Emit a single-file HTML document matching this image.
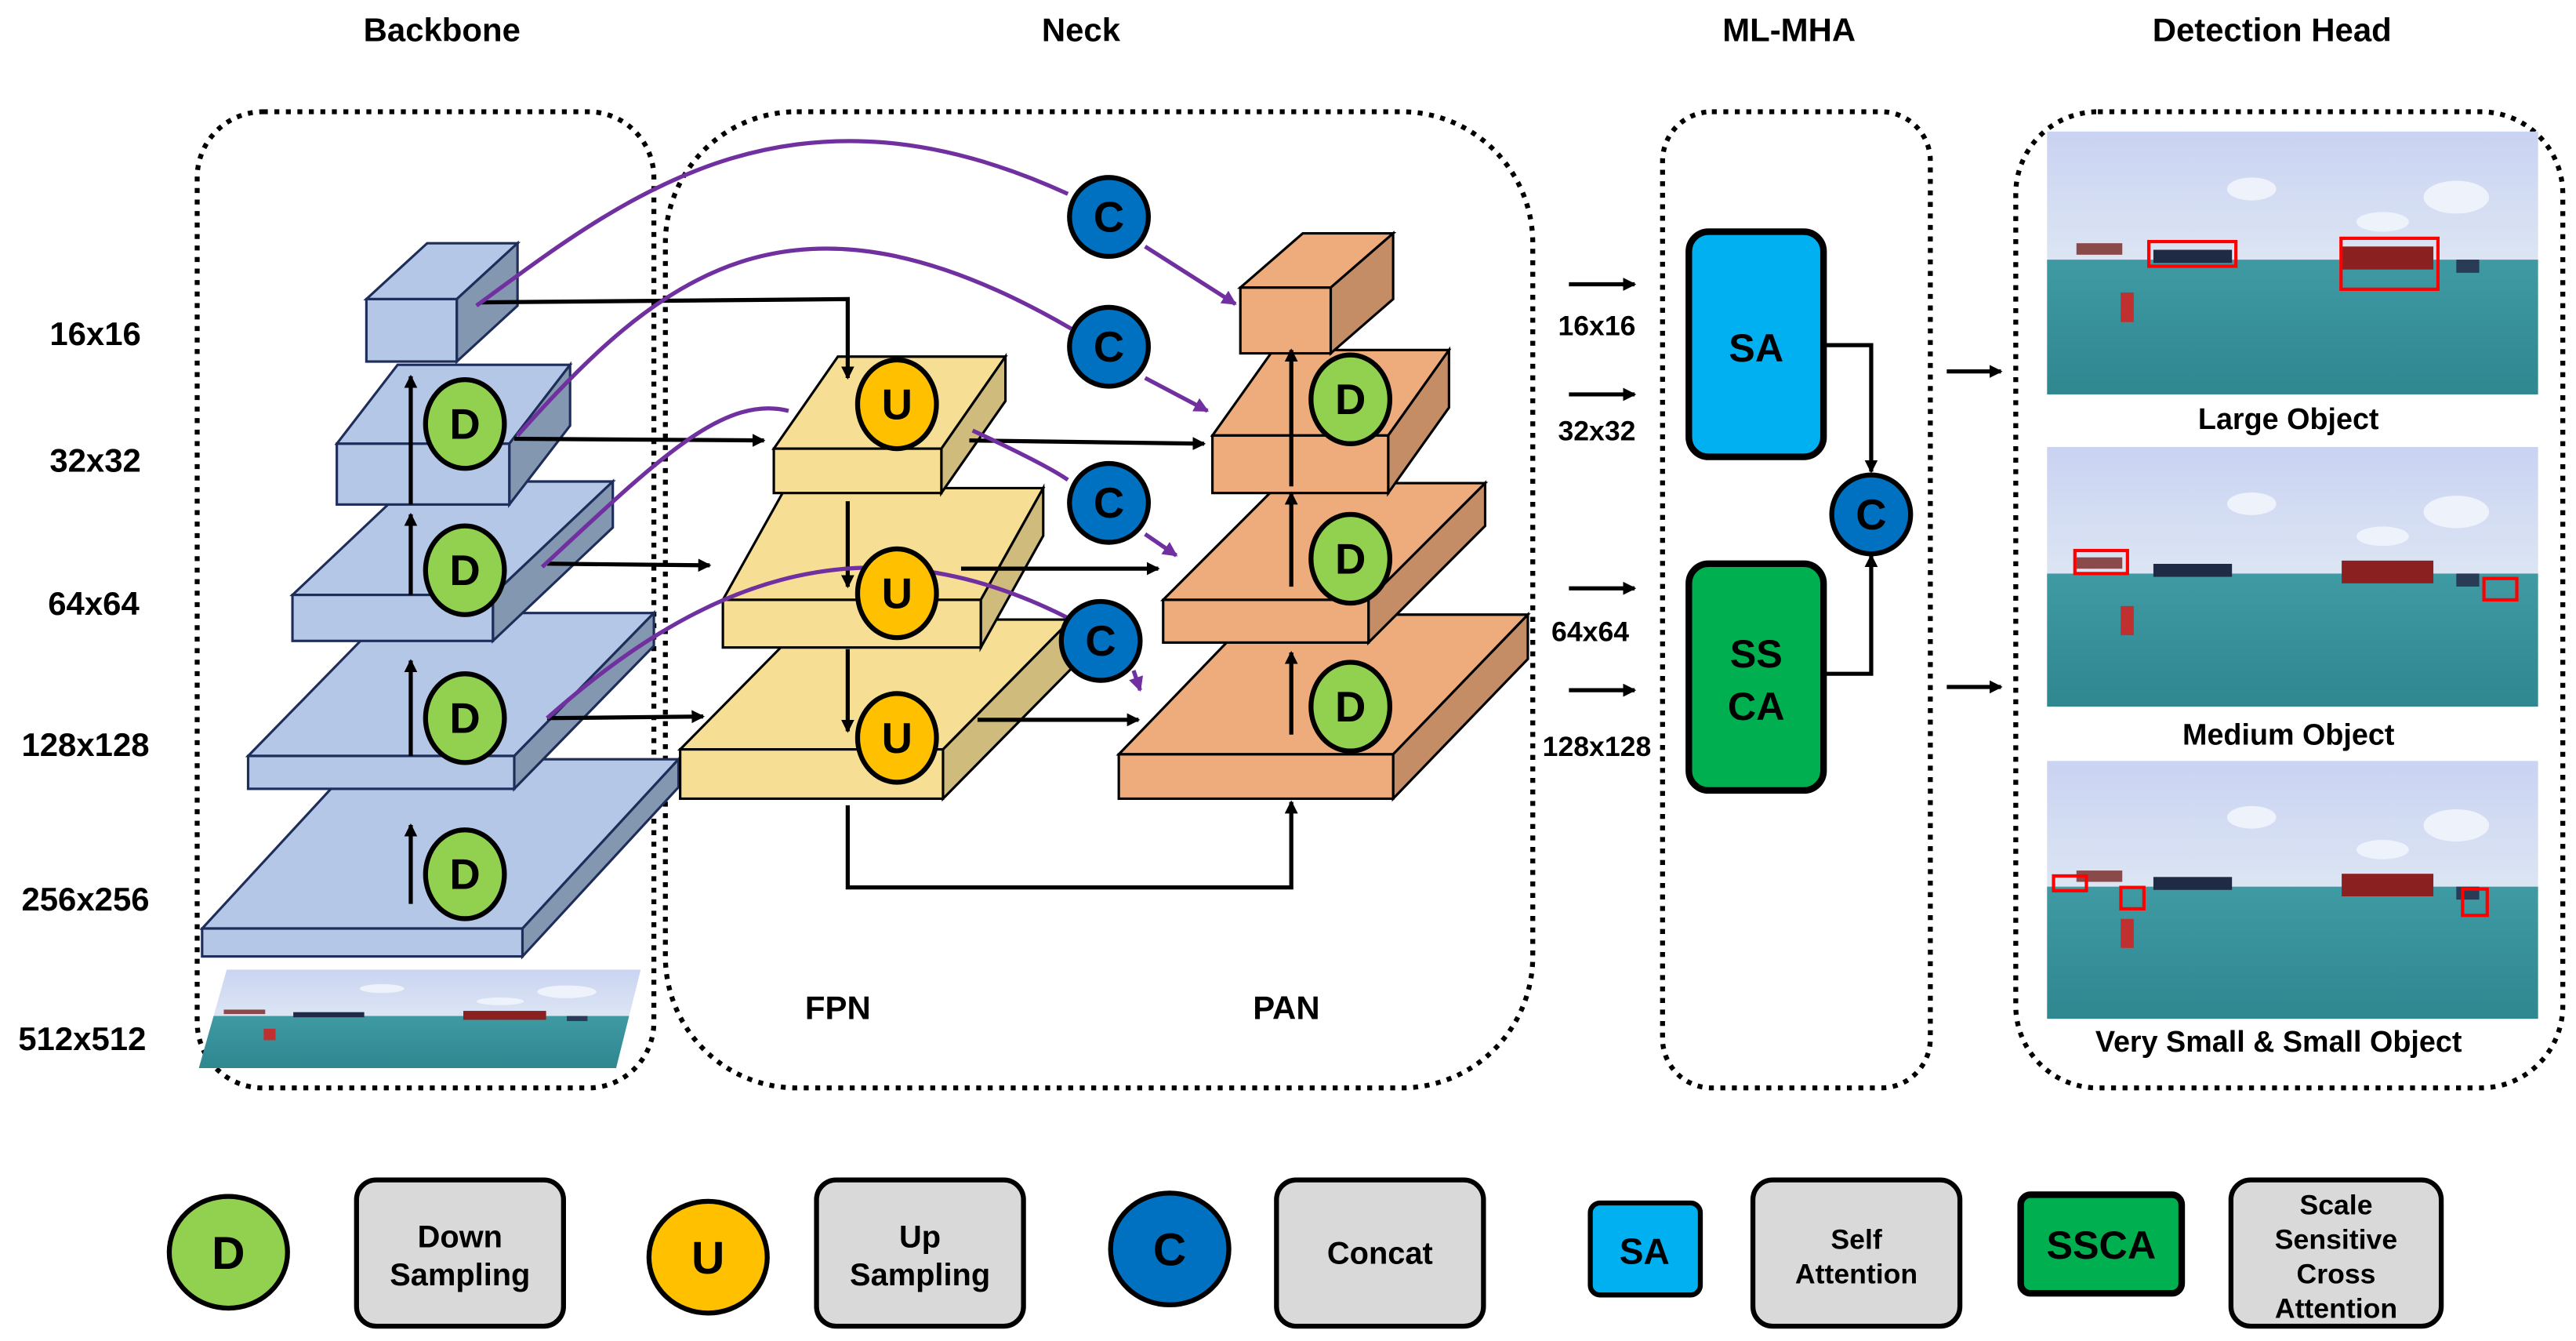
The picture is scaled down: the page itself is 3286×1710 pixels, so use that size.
<!DOCTYPE html>
<html><head><meta charset="utf-8"><style>
html,body{margin:0;padding:0;background:#fff}
svg{display:block}
text{font-family:"Liberation Sans",Arial,sans-serif;font-weight:bold;fill:#000}
</style></head><body>
<svg width="3286" height="1710" viewBox="0 0 1568 816" xmlns="http://www.w3.org/2000/svg">
<defs>
<marker id="ab" markerWidth="8" markerHeight="8" refX="7" refY="4" orient="auto" markerUnits="userSpaceOnUse"><path d="M0,0 L8,4 L0,8 Z" fill="#000"/></marker>
<marker id="ap" markerWidth="9" markerHeight="9" refX="8" refY="4.5" orient="auto" markerUnits="userSpaceOnUse"><path d="M0,0 L9,4.5 L0,9 Z" fill="#7030a0"/></marker>
<linearGradient id="sky" x1="0" y1="0" x2="0" y2="1"><stop offset="0" stop-color="#c9d3f2"/><stop offset="1" stop-color="#dde6f3"/></linearGradient>
<linearGradient id="sea" x1="0" y1="0" x2="0" y2="1"><stop offset="0" stop-color="#3f9aa3"/><stop offset="1" stop-color="#2f8790"/></linearGradient>
<clipPath id="pc"><polygon points="121,650 138,590 390,590 375,650"/></clipPath>
<symbol id="ph" viewBox="0 0 300 160" preserveAspectRatio="none">
<rect width="300" height="82" fill="url(#sky)"/>
<ellipse cx="125" cy="35" rx="15" ry="7" fill="#eef2fb"/><ellipse cx="250" cy="40" rx="20" ry="10" fill="#eef2fb"/><ellipse cx="205" cy="55" rx="16" ry="6" fill="#eef2fb"/>
<rect y="78" width="300" height="82" fill="url(#sea)"/>
<rect x="18" y="68" width="28" height="7" fill="#8a4a4a"/><rect x="65" y="72" width="48" height="8" fill="#1f2b45"/>
<rect x="180" y="70" width="56" height="14" fill="#8b2020"/><rect x="250" y="78" width="14" height="8" fill="#2a3b55"/>
<rect x="45" y="98" width="8" height="18" fill="#c03030"/>
</symbol>
</defs>

<text x="269" y="25" font-size="20" text-anchor="middle">Backbone</text>
<text x="658" y="25" font-size="20" text-anchor="middle">Neck</text>
<text x="1089" y="25" font-size="20" text-anchor="middle">ML-MHA</text>
<text x="1383" y="25" font-size="20" text-anchor="middle">Detection Head</text>

<g font-size="20" text-anchor="middle">
<text x="58" y="210">16x16</text><text x="58" y="287">32x32</text><text x="57" y="374">64x64</text>
<text x="52" y="460">128x128</text><text x="52" y="554">256x256</text><text x="50" y="639">512x512</text>
</g>

<g fill="none" stroke="#000" stroke-width="3" stroke-dasharray="3,4">
<rect x="120" y="68" width="278" height="594" rx="40"/>
<rect x="405" y="68" width="528" height="594" rx="80"/>
<rect x="1012" y="68" width="163" height="594" rx="30"/>
<rect x="1227" y="68" width="333" height="594" rx="50"/>
</g>

<g clip-path="url(#pc)">
<svg x="120" y="588" width="270" height="62" viewBox="0 0 300 160" preserveAspectRatio="none"><use href="#ph"/></svg>
</g>

<g stroke="#1f2d5a" stroke-width="1.5">
<polygon points="123,565 218,462 413,462 318,565" fill="#b4c7e7"/><polygon points="318,565 413,462 413,479 318,582" fill="#8497b0"/><rect x="123" y="565" width="195" height="17" fill="#b4c7e7"/>
<polygon points="151,460 236,373 398,373 313,460" fill="#b4c7e7"/><polygon points="313,460 398,373 398,393 313,480" fill="#8497b0"/><rect x="151" y="460" width="162" height="20" fill="#b4c7e7"/>
<polygon points="178,362 251,293 373,293 300,362" fill="#b4c7e7"/><polygon points="300,362 373,293 373,321 300,390" fill="#8497b0"/><rect x="178" y="362" width="122" height="28" fill="#b4c7e7"/>
<polygon points="205,270 242,222 347,222 310,270" fill="#b4c7e7"/><polygon points="310,270 347,222 347,259 310,307" fill="#8497b0"/><rect x="205" y="270" width="105" height="37" fill="#b4c7e7"/>
<polygon points="223,182 260,148 315,148 278,182" fill="#b4c7e7"/><polygon points="278,182 315,148 315,186 278,220" fill="#8497b0"/><rect x="223" y="182" width="55" height="38" fill="#b4c7e7"/>
</g>

<g stroke="#000" stroke-width="1.5">
<polygon points="414,456 492,377 652,377 574,456" fill="#f6de95"/><polygon points="574,456 652,377 652,407 574,486" fill="#cfbb7b"/><rect x="414" y="456" width="160" height="30" fill="#f6de95"/>
<polygon points="440,365 478,297 635,297 597,365" fill="#f6de95"/><polygon points="597,365 635,297 635,326 597,394" fill="#cfbb7b"/><rect x="440" y="365" width="157" height="29" fill="#f6de95"/>
<polygon points="471,273 510,217 612,217 573,273" fill="#f6de95"/><polygon points="573,273 612,217 612,244 573,300" fill="#cfbb7b"/><rect x="471" y="273" width="102" height="27" fill="#f6de95"/>
</g>

<g stroke="#000" stroke-width="1.5">
<polygon points="681,459 763,374 930,374 848,459" fill="#eeac7d"/><polygon points="848,459 930,374 930,401 848,486" fill="#c48d66"/><rect x="681" y="459" width="167" height="27" fill="#eeac7d"/>
<polygon points="708,365 779,294 904,294 833,365" fill="#eeac7d"/><polygon points="833,365 904,294 904,320 833,391" fill="#c48d66"/><rect x="708" y="365" width="125" height="26" fill="#eeac7d"/>
<polygon points="738,265 775,213 882,213 845,265" fill="#eeac7d"/><polygon points="845,265 882,213 882,248 845,300" fill="#c48d66"/><rect x="738" y="265" width="107" height="35" fill="#eeac7d"/>
<polygon points="755,175 793,142 848,142 810,175" fill="#eeac7d"/><polygon points="810,175 848,142 848,182 810,215" fill="#c48d66"/><rect x="755" y="175" width="55" height="40" fill="#eeac7d"/>
</g>

<g stroke="#000" stroke-width="2.5" fill="none" marker-end="url(#ab)">
<path d="M293,184 L516,182 L516,230"/>
<path d="M313,267 L465,268"/><path d="M333,343 L432,344"/><path d="M333,437 L428,436"/>
<path d="M590,268 L733,270"/><path d="M585,346 L705,346"/><path d="M595,438 L693,438"/>
<path d="M516,305 L516,357"/><path d="M516,395 L516,445"/>
<path d="M786,296 L786,213"/><path d="M786,357 L786,300"/><path d="M786,447 L786,397"/>
<path d="M516,490 L516,540 L786,540 L786,488"/>
<path d="M250,307 L250,229"/><path d="M250,362 L250,313"/><path d="M250,460 L250,402"/><path d="M250,550 L250,502"/>
<path d="M955,173 L995,173"/><path d="M955,240 L995,240"/><path d="M955,358 L995,358"/><path d="M955,420 L995,420"/>
<path d="M1110,210 L1139,210 L1139,287"/><path d="M1110,410 L1139,410 L1139,338"/>
<path d="M1185,226 L1218,226"/><path d="M1185,418 L1218,418"/>
</g>

<g stroke="#7030a0" stroke-width="2.5" fill="none">
<path d="M290,186 C380,120 480,40 650,118"/>
<path d="M315,265 C400,170 480,100 652,200"/>
<path d="M330,345 C400,280 440,240 480,250"/><path d="M592,262 C620,275 640,285 650,292"/>
<path d="M333,437 C420,360 520,310 650,376"/>
<path d="M697,150 L752,185" marker-end="url(#ap)"/>
<path d="M697,230 L735,250" marker-end="url(#ap)"/>
<path d="M697,325 L716,338" marker-end="url(#ap)"/>
<path d="M690,408 L694,420" marker-end="url(#ap)"/>
</g>

<g stroke="#000" stroke-width="3">
<g fill="#92d050"><ellipse cx="283" cy="258" rx="24" ry="27"/><ellipse cx="283" cy="347" rx="24" ry="27"/><ellipse cx="283" cy="437" rx="24" ry="27"/><ellipse cx="283" cy="532" rx="24" ry="27"/>
<ellipse cx="822" cy="243" rx="24" ry="27"/><ellipse cx="822" cy="340" rx="24" ry="27"/><ellipse cx="822" cy="430" rx="24" ry="27"/></g>
<g fill="#ffc000"><ellipse cx="546" cy="246" rx="24" ry="27"/><ellipse cx="546" cy="361" rx="24" ry="27"/><ellipse cx="546" cy="449" rx="24" ry="27"/></g>
<g fill="#0070c0"><ellipse cx="675" cy="132" rx="24" ry="24"/><ellipse cx="675" cy="211" rx="24" ry="24"/><ellipse cx="675" cy="306" rx="24" ry="24"/><ellipse cx="670" cy="390" rx="24" ry="24"/><ellipse cx="1139" cy="313" rx="24" ry="24"/></g>
</g>
<g font-size="26" text-anchor="middle">
<text x="283" y="267">D</text><text x="283" y="356">D</text><text x="283" y="446">D</text><text x="283" y="541">D</text>
<text x="822" y="252">D</text><text x="822" y="349">D</text><text x="822" y="439">D</text>
<text x="546" y="255">U</text><text x="546" y="370">U</text><text x="546" y="458">U</text>
<text x="675" y="141">C</text><text x="675" y="220">C</text><text x="675" y="315">C</text><text x="670" y="399">C</text><text x="1139" y="322">C</text>
</g>

<text x="510" y="620" font-size="20" text-anchor="middle">FPN</text>
<text x="783" y="620" font-size="20" text-anchor="middle">PAN</text>

<g font-size="17" text-anchor="middle">
<text x="972" y="204">16x16</text><text x="972" y="268">32x32</text><text x="968" y="390">64x64</text><text x="972" y="460">128x128</text>
</g>

<rect x="1028" y="141" width="82" height="137" rx="12" fill="#00b0f0" stroke="#000" stroke-width="4"/>
<rect x="1028" y="343" width="82" height="138" rx="12" fill="#00b050" stroke="#000" stroke-width="4"/>
<g font-size="24" text-anchor="middle">
<text x="1069" y="220">SA</text><text x="1069" y="406">SS</text><text x="1069" y="438">CA</text>
</g>

<svg x="1246" y="80" width="299" height="160" viewBox="0 0 300 160" preserveAspectRatio="none"><use href="#ph"/></svg>
<svg x="1246" y="272" width="299" height="158" viewBox="0 0 300 160" preserveAspectRatio="none"><use href="#ph"/></svg>
<svg x="1246" y="463" width="299" height="157" viewBox="0 0 300 160" preserveAspectRatio="none"><use href="#ph"/></svg>
<g fill="none" stroke="#f00" stroke-width="2">
<rect x="1308" y="147" width="53" height="15"/><rect x="1425" y="145" width="59" height="31"/>
<rect x="1263" y="335" width="32" height="14"/><rect x="1512" y="352" width="20" height="13"/>
<rect x="1250" y="533" width="20" height="9"/><rect x="1291" y="540" width="14" height="13"/><rect x="1499" y="541" width="15" height="16"/>
</g>
<g font-size="18" text-anchor="middle">
<text x="1393" y="261">Large Object</text><text x="1393" y="453">Medium Object</text><text x="1387" y="640">Very Small &amp;  Small Object</text>
</g>

<g stroke="#000" stroke-width="3">
<ellipse cx="139" cy="762" rx="36" ry="34" fill="#92d050"/>
<ellipse cx="431" cy="765" rx="36" ry="34" fill="#ffc000"/>
<ellipse cx="712" cy="760" rx="36" ry="34" fill="#0070c0"/>
<g fill="#d9d9d9">
<rect x="217" y="718" width="126" height="89" rx="12"/><rect x="497" y="718" width="126" height="89" rx="12"/>
<rect x="777" y="718" width="126" height="89" rx="12"/><rect x="1067" y="718" width="126" height="89" rx="12"/>
<rect x="1358" y="718" width="128" height="89" rx="12"/>
</g>
<rect x="968" y="732" width="67" height="56" rx="6" fill="#00b0f0"/>
<rect x="1230" y="727" width="98" height="60" rx="6" fill="#00b050" stroke-width="4"/>
</g>
<g text-anchor="middle">
<text x="139" y="772" font-size="28">D</text><text x="431" y="775" font-size="28">U</text><text x="712" y="770" font-size="28">C</text>
<text x="280" y="759" font-size="19">Down</text><text x="280" y="782" font-size="19">Sampling</text>
<text x="560" y="759" font-size="19">Up</text><text x="560" y="782" font-size="19">Sampling</text>
<text x="840" y="769" font-size="19">Concat</text>
<text x="1001" y="769" font-size="22">SA</text>
<text x="1130" y="760" font-size="17">Self</text><text x="1130" y="781" font-size="17">Attention</text>
<text x="1279" y="766" font-size="24">SSCA</text>
<text x="1422" y="739" font-size="17">Scale</text><text x="1422" y="760" font-size="17">Sensitive</text><text x="1422" y="781" font-size="17">Cross</text><text x="1422" y="802" font-size="17">Attention</text>
</g>
</svg>
</body></html>
